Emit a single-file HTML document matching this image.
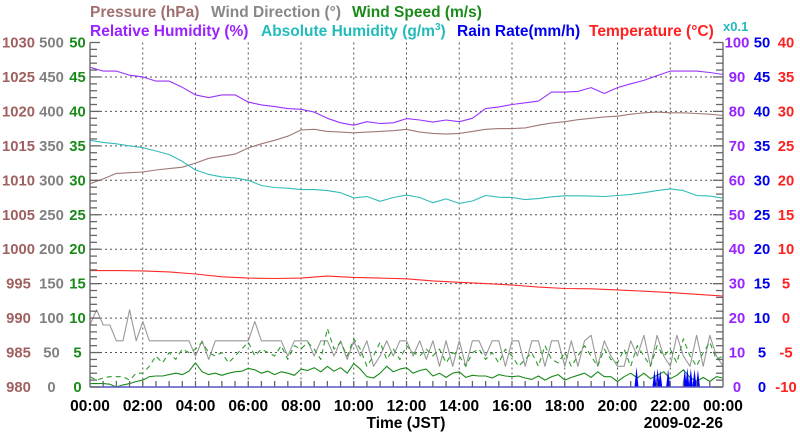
<!DOCTYPE html>
<html><head><meta charset="utf-8">
<style>
html,body{margin:0;padding:0;background:#fff;}
svg{display:block;font-family:"Liberation Sans",Arial,sans-serif;font-weight:bold;}
</style></head>
<body>
<svg id="chart" width="800" height="434" viewBox="0 0 800 434">
<g id="titles">
<text x="90" y="17" font-size="15.5" fill="#a07070">Pressure (hPa)</text>
<text x="211" y="17" font-size="15.5" fill="#888">Wind Direction (°)</text>
<text x="352" y="17" font-size="15.5" fill="#1a8a1a">Wind Speed (m/s)</text>
<text x="90" y="36" font-size="15.5" fill="#9922ff">Relative Humidity (%)</text>
<text x="261" y="36" font-size="15.5" fill="#22bbbb">Absolute Humidity (g/m<tspan font-size="10" dy="-6">3</tspan><tspan dy="6">)</tspan></text>
<text x="457" y="36" font-size="15.5" fill="#0000ee">Rain Rate(mm/h)</text>
<text x="589" y="36" font-size="15.5" fill="#ff2020">Temperature (°C)</text>
<text x="723" y="31" font-size="13" fill="#22bbbb">x0.1</text>
</g>
<g id="grid"></g>
<g id="series"></g>
<g id="axes"></g>
<text x="406" y="428" font-size="15.5" text-anchor="middle" fill="#000">Time (JST)</text>
<text x="723" y="428" font-size="15.5" text-anchor="end" fill="#000">2009-02-26</text>
</svg>
<script>
// ---- data ----
const pressureTicks = [980,985,990,995,1000,1005,1010,1015,1020,1025,1030];
const dirTicks = [0,50,100,150,200,250,300,350,400,450,500];
const speedTicks = [0,5,10,15,20,25,30,35,40,45,50];
const rhTicks = [0,10,20,30,40,50,60,70,80,90,100];
const rainTicks = [0,5,10,15,20,25,30,35,40,45,50];
const tempTicks = [-10,-5,0,5,10,15,20,25,30,35,40];
const timeLabels = ["00:00","02:00","04:00","06:00","08:00","10:00","12:00","14:00","16:00","18:00","20:00","22:00","00:00"];
// half-hourly (0..24h, 49 values)
const relHumidity = [92.8,91.7,91.7,90.5,90,88.8,88.8,87,84.8,84,84.8,84.8,82.7,81.9,81.4,80.8,80.6,79.8,78,76.7,76,77,76.5,76.7,77.9,77.5,76.9,77.5,77,78,80.8,81.3,82,82.5,83,85.6,85.6,85.8,86.9,85.2,86.9,88,89,90.4,91.7,91.7,91.7,91.3,90.7];
const pressure = [1009.5,1010.2,1011,1011.1,1011.2,1011.5,1011.7,1011.9,1012.5,1013.2,1013.5,1013.8,1014.7,1015.3,1015.8,1016.4,1017.3,1017.4,1017.1,1017,1016.9,1017,1017.1,1017.2,1017.4,1017,1016.8,1016.7,1016.8,1017.1,1017.4,1017.5,1017.5,1017.6,1018,1018.3,1018.5,1018.8,1019,1019.2,1019.3,1019.6,1019.8,1019.9,1019.8,1019.8,1019.7,1019.6,1019.4];
const absHumidity = [7.16,7.1,7.06,7.0,6.95,6.85,6.75,6.55,6.3,6.17,6.1,6.07,6.0,5.85,5.79,5.77,5.73,5.73,5.7,5.64,5.49,5.53,5.39,5.5,5.57,5.5,5.35,5.46,5.33,5.4,5.56,5.51,5.5,5.44,5.47,5.52,5.55,5.55,5.54,5.53,5.56,5.59,5.64,5.7,5.75,5.7,5.56,5.54,5.48];
// hourly (0..24h, 25 values)
const temperature = [6.9,6.9,6.85,6.7,6.4,6.0,5.8,5.75,5.8,6.1,5.9,5.8,5.7,5.4,5.2,5.0,4.8,4.5,4.3,4.25,4.1,3.9,3.7,3.45,3.2];
// 15-minute (0..24h, 97 values)
const windDir = [90,112,90,90,67,67,112,67,95,67,67,67,67,67,67,67,45,67,40,67,67,67,67,67,67,95,67,67,67,67,45,67,67,67,45,67,67,45,67,40,67,45,67,30,45,67,45,67,67,45,67,40,67,30,67,30,67,30,67,67,45,67,67,30,67,67,30,67,67,30,67,67,30,67,30,67,75,30,67,45,30,30,67,45,75,30,75,45,30,75,45,30,75,30,75,45,30];
const windSpeed = [0.5,0.5,0.5,0.4,0,0.3,0.5,0.8,1.0,1.5,1.6,1.6,1.8,2.0,1.8,2.3,3.5,2.2,1.8,2.0,1.7,2.0,2.2,2.3,2.7,2.5,2.0,2.3,1.8,2.2,2.0,1.7,2.6,2.4,2.8,2.2,3.0,2.3,2.8,2.0,3.4,2.6,1.5,1.3,2.0,3.0,2.2,2.6,2.8,2.0,2.4,2.6,1.6,2.0,1.4,2.0,2.2,1.4,1.7,1.6,1.6,1.3,1.8,1.6,1.5,1.6,1.3,1.1,1.6,1.0,1.5,1.8,1.0,1.4,1.7,2.0,1.4,2.2,1.5,1.5,0.8,1.5,2.0,1.3,2.0,1.2,1.7,2.2,1.2,1.7,2.5,1.4,0.8,1.4,0.8,1.5,1.3];
const windGust = [1.5,1.0,1.3,1.5,1.5,1.5,1.0,2.0,2.0,3.0,4.5,3.5,5.0,4.0,5.5,5.0,5.5,6.5,5.0,4.5,5.0,3.5,4.5,5.5,6.5,4.5,5.5,5.0,4.5,6.0,4.0,6.0,5.5,6.5,5.5,4.0,8.5,5.5,6.5,4.5,7.0,5.5,3.0,4.5,6.5,4.0,5.5,4.0,6.0,5.0,4.5,5.5,4.5,5.5,3.5,5.0,4.5,3.0,5.0,5.5,4.0,5.0,3.5,5.5,4.5,3.0,4.0,5.0,3.0,6.0,4.0,3.5,5.0,3.0,4.5,6.0,4.5,3.0,5.5,4.0,3.5,5.5,3.0,6.0,4.5,3.0,6.0,4.5,5.5,3.5,7.0,4.5,3.0,5.0,6.5,4.0,4.5];
// rain spikes
const rainTimes = [20.72,21.40,21.52,21.62,21.92,22.55,22.65,22.78,22.92,23.05];
const rainValues = [2.9,2.5,2.7,2.4,2.6,2.6,2.8,2.7,2.6,2.5];

// ---- scales ----
const X0=90, X1=723, Y0=387, Y1=42.5, H=Y0-Y1;
const xT = h => X0 + h/24*(X1-X0);
const yP = v => Y0 - (v-980)/50*H;
const yDir = v => Y0 - v/500*H;
const ySpd = v => Y0 - v/50*H;
const yRH = v => Y0 - v/100*H;
const yAbs = v => Y0 - v/10*H;
const yRain = v => Y0 - v/50*H;
const yTemp = v => Y0 - (v+10)/50*H;

const NS="http://www.w3.org/2000/svg";
function mk(tag, parent, attrs){const e=document.createElementNS(NS,tag);for(const k in attrs)e.setAttribute(k,attrs[k]);parent.appendChild(e);return e;}
const grid=document.getElementById('grid'), ser=document.getElementById('series'), axes=document.getElementById('axes');

for(let i=1;i<10;i++){
  const y=Y0-i*H/10;
  const l=mk('line',grid,{x1:X0,x2:X1,y1:y,y2:y,stroke:'#555','stroke-width':1,'stroke-dasharray':'2,3'});
  
  
}
for(let i=1;i<12;i++){
  const x=xT(i*2);
  const l=mk('line',grid,{x1:x,x2:x,y1:Y1,y2:Y0,stroke:'#555','stroke-width':1,'stroke-dasharray':'2,3'});
  
  
}

function line(vals, step, yf, color, name, extra){
  const pts=vals.map((v,i)=>xT(i*step).toFixed(1)+','+yf(v).toFixed(1)).join(' ');
  const p=mk('polyline',ser,Object.assign({points:pts,fill:'none',stroke:color,'stroke-width':1.1,'stroke-linejoin':'round'},extra||{}));
  
  
}
line(windDir,0.25,yDir,'#999','wind-direction-line');
line(windGust,0.25,ySpd,'#2a9a2a','wind-gust-line',{'stroke-dasharray':'5,4'});
line(windSpeed,0.25,ySpd,'#1a8a1a','wind-speed-line');
line(pressure,0.5,yP,'#a07878','pressure-line');
line(absHumidity,0.5,yAbs,'#33bbbb','absolute-humidity-line');
line(relHumidity,0.5,yRH,'#9933ff','relative-humidity-line');
line(temperature,1,yTemp,'#ff2a2a','temperature-line');
rainTimes.forEach((t,i)=>{
  const x=xT(t);
  const p=mk('polygon',ser,{points:`${x-2},${Y0} ${x},${yRain(rainValues[i])} ${x+2},${Y0}`,fill:'#0000ff'});
  
  
});
const rb=mk('line',ser,{x1:X0,x2:X1,y1:Y0,y2:Y0,stroke:'#5555cc','stroke-width':1.5});



const la=mk('line',axes,{x1:X0,x2:X0,y1:Y1,y2:Y0,stroke:'#777','stroke-width':1.5});


const ra=mk('line',axes,{x1:X1,x2:X1,y1:Y1,y2:Y0,stroke:'#777','stroke-width':1.5});


for(let i=0;i<=50;i++){
  const y=Y0-i*H/50, len=(i%5==0)?10:7;
  const a=mk('line',axes,{x1:X0,x2:X0+len,y1:y,y2:y,stroke:'#666','stroke-width':1.3});
  
  
  const b=mk('line',axes,{x1:X1-len,x2:X1,y1:y,y2:y,stroke:'#666','stroke-width':1.3});
  
  
}
for(let i=1;i<48;i++){
  const x=xT(i*0.5);
  const t=mk('line',axes,{x1:x,x2:x,y1:Y0-6,y2:Y0,stroke:'#666','stroke-width':1.3});
  
  
}

function col(ticks, cx, color, name, yf){
  ticks.forEach(v=>{
    const t=mk('text',axes,{x:cx,y:(yf(v)+5).toFixed(1),'font-size':14.8,'text-anchor':'middle',fill:color});
    t.textContent=v;
    
    
  });
}
col(pressureTicks,18.5,'#a06060','pressure-tick-label',yP);
col(dirTicks,51.5,'#808080','wind-direction-tick-label',yDir);
col(speedTicks,77.5,'#1a8a1a','wind-speed-tick-label',ySpd);
col(rhTicks,737,'#9922ff','humidity-tick-label',yRH);
col(rainTicks,762,'#0000ee','rain-tick-label',yRain);
col(tempTicks,786,'#ff2020','temperature-tick-label',yTemp);
timeLabels.forEach((s,i)=>{
  const t=mk('text',axes,{x:xT(i*2),y:411,'font-size':15.5,'text-anchor':'middle',fill:'#000'});
  t.textContent=s;
  
  
});
</script>
</body></html>
